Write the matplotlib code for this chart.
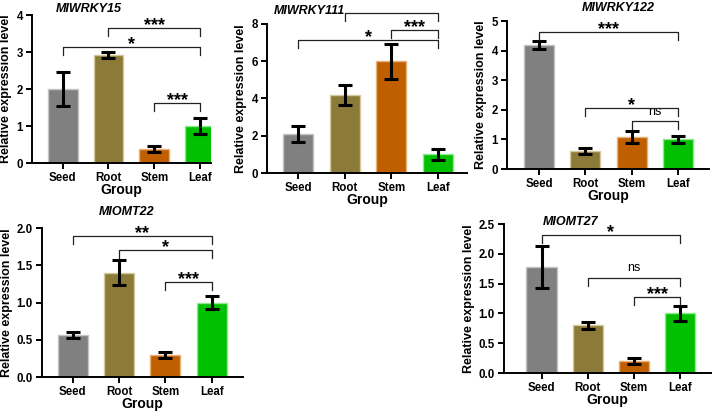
"""Relative expression of MI genes across tissues, five bar panels."""

import matplotlib

matplotlib.use("Agg")
import matplotlib.pyplot as plt

plt.rcParams["font.family"] = ["Liberation Sans", "DejaVu Sans"]
plt.rcParams["font.weight"] = "bold"
plt.rcParams["axes.labelweight"] = "bold"

W, H = 713, 411

groups = ["Seed", "Root", "Stem", "Leaf"]
bar_colors = ["#808080", "#8c7a38", "#c05f00", "#00c000"]
edge_colors = ["#c4c4c4", "#d4c99c", "#eab07a", "#8cec8c"]

wrky15_mean = [2.0, 2.92, 0.38, 1.0]
wrky15_err = [0.45, 0.08, 0.09, 0.22]
wrky111_mean = [2.1, 4.2, 6.0, 1.0]
wrky111_err = [0.45, 0.55, 0.95, 0.28]
wrky122_mean = [4.18, 0.6, 1.07, 1.0]
wrky122_err = [0.13, 0.1, 0.2, 0.13]
omt22_mean = [0.56, 1.4, 0.3, 1.0]
omt22_err = [0.04, 0.17, 0.04, 0.09]
omt27_mean = [1.78, 0.8, 0.2, 1.0]
omt27_err = [0.35, 0.06, 0.05, 0.13]

# (from, to, height, label)
wrky15_sig = [(0, 3, 3.14, "*"), (1, 3, 3.64, "***"), (2, 3, 1.62, "***")]
wrky111_sig = [(0, 3, 7.14, "*"), (2, 3, 7.7, "***"), (1, 3, 8.57, "***")]
wrky122_sig = [(0, 3, 4.64, "***"), (1, 3, 2.07, "*"), (2, 3, 1.62, "ns")]
omt22_sig = [(0, 3, 1.89, "**"), (1, 3, 1.70, "*"), (2, 3, 1.28, "***")]
omt27_sig = [(0, 3, 2.31, "*"), (1, 3, 1.6, "ns"), (2, 3, 1.28, "***")]

# layout in pixels: y-axis x, first bar x, bar spacing, axis end x, top, bottom
panels = [
    ("MIWRKY15", wrky15_mean, wrky15_err, wrky15_sig, 4, 1,
     (32, 62.7, 45.8, 211, 15, 163), (0.32, 1.0)),
    ("MIWRKY111", wrky111_mean, wrky111_err, wrky111_sig, 8, 2,
     (267, 298.3, 46.5, 467, 24, 173), (0.21, 1.045)),
    ("MIWRKY122", wrky122_mean, wrky122_err, wrky122_sig, 5, 1,
     (507, 539, 46.3, 709, 21, 169), (0.55, 1.05)),
    ("MIOMT22", omt22_mean, omt22_err, omt22_sig, 2.0, 0.5,
     (42, 72.7, 46.3, 243, 228, 377), (0.42, 1.065)),
    ("MIOMT27", omt27_mean, omt27_err, omt27_sig, 2.5, 0.5,
     (504, 541.5, 46.3, 711, 224, 373), (0.32, 0.975)),
]

fig = plt.figure(figsize=(W / 100, H / 100), dpi=100)

for title, mean, err, sig, ymax, ystep, box, tpos in panels:
    left, first, step, right, top, bottom = box
    ax = fig.add_axes([left / W, 1 - bottom / H, (right - left) / W, (bottom - top) / H])
    x = list(range(len(groups)))
    ax.bar(x, mean, width=0.65, color=bar_colors, edgecolor=edge_colors, linewidth=1.0, zorder=2)
    ax.errorbar(x, mean, yerr=err, fmt="none", ecolor="black", elinewidth=2.2,
                capsize=5, capthick=2.2, zorder=3)

    drop = ymax * 8 / (bottom - top)
    for i, j, y, lab in sig:
        ax.plot([i, i, j, j], [y - drop, y, y, y - drop], color="#222222", lw=0.9,
                clip_on=False, zorder=4)
        if lab == "ns":
            ax.annotate(lab, xy=((i + j) / 2, y), xytext=(0, 4.5), textcoords="offset points",
                        ha="center", va="baseline", fontsize=9, fontweight="normal")
        else:
            ax.annotate(lab, xy=((i + j) / 2, y), xytext=(0, -1.5), textcoords="offset points",
                        ha="center", va="baseline", fontsize=13, fontweight="bold")

    ax.set_xlim((left - first) / step, (right - first) / step)
    ax.set_ylim(0, ymax)
    ticks = [k * ystep for k in range(int(round(ymax / ystep)) + 1)]
    ax.set_yticks(ticks)
    if ystep < 1:
        ax.set_yticklabels([f"{t:.1f}" for t in ticks])
    ax.set_xticks(x)
    ax.set_xticklabels(groups)
    ax.tick_params(axis="both", labelsize=8.3, width=1.4, length=4.5, direction="out", pad=2)
    ax.set_ylabel("Relative expression level", fontsize=9, labelpad=3)
    ax.set_xlabel("Group", fontsize=10, labelpad=-0.5)
    for side in ("top", "right"):
        ax.spines[side].set_visible(False)
    for side in ("left", "bottom"):
        ax.spines[side].set_linewidth(1.4)
    ax.text(tpos[0], tpos[1], title, transform=ax.transAxes, ha="center", va="bottom",
            fontsize=9, fontweight="bold", fontstyle="italic")

fig.savefig("out.png", dpi=100)
